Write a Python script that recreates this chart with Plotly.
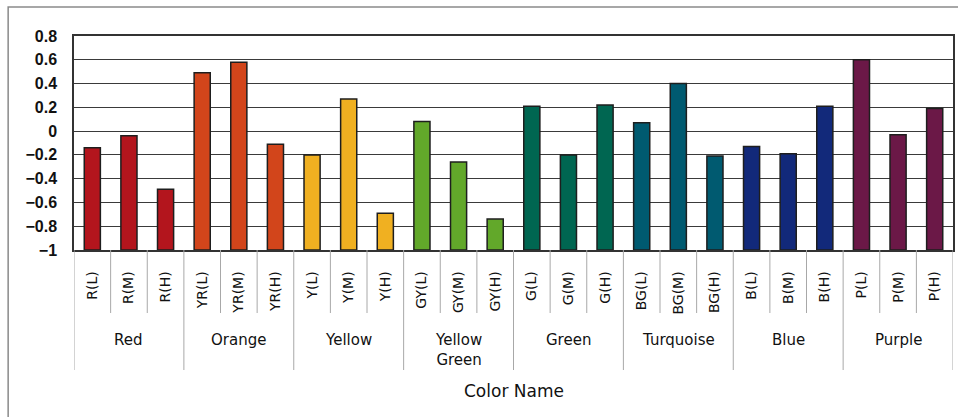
import plotly.graph_objects as go

# ---- data ----
categories = ["R(L)", "R(M)", "R(H)", "YR(L)", "YR(M)", "YR(H)", "Y(L)", "Y(M)", "Y(H)",
              "GY(L)", "GY(M)", "GY(H)", "G(L)", "G(M)", "G(H)", "BG(L)", "BG(M)", "BG(H)",
              "B(L)", "B(M)", "B(H)", "P(L)", "P(M)", "P(H)"]
values = [-0.14, -0.04, -0.49, 0.49, 0.58, -0.11, -0.20, 0.27, -0.69,
          0.08, -0.26, -0.74, 0.21, -0.20, 0.22, 0.07, 0.40, -0.21,
          -0.13, -0.19, 0.21, 0.60, -0.03, 0.19]
groups = ["Red", "Orange", "Yellow", "Yellow<br>Green", "Green", "Turquoise", "Blue", "Purple"]
group_colors = ["#b3151d", "#d2451b", "#f0b021", "#62a82a", "#006651", "#005a70", "#12297a", "#6b1847"]
y_ticks = [0.8, 0.6, 0.4, 0.2, 0, -0.2, -0.4, -0.6, -0.8, -1]
x_title = "Color Name"

base = -1.0
per_group = len(categories) // len(groups)
bar_colors = [group_colors[i // per_group] for i in range(len(categories))]

fig = go.Figure()
fig.add_trace(go.Bar(
    x=categories,
    y=[v - base for v in values],
    base=base,
    marker=dict(color=bar_colors, line=dict(color="#1e1e1e", width=1.5)),
    showlegend=False,
))

W, H = 958, 417
ml, mr, mt, mb = 74, 3, 36, 167
ph = H - mt - mb


def py(pix):
    # pixel row -> paper y
    return (H - mb - pix) / ph


shapes = []
# short dividers between categories
for i in range(len(categories) - 1):
    if (i + 1) % per_group == 0:
        continue
    shapes.append(dict(type="line", xref="x", yref="paper", x0=i + 0.5, x1=i + 0.5,
                       y0=0, y1=py(313), line=dict(color="#a8a8a8", width=1)))
# long dividers between groups
for g in range(len(groups) + 1):
    xb = g * per_group - 0.5
    shapes.append(dict(type="line", xref="x", yref="paper", x0=xb, x1=xb,
                       y0=0, y1=py(370), line=dict(color="#a8a8a8", width=1)))
# outer frame
shapes.append(dict(type="rect", xref="paper", yref="paper",
                   x0=(8 - ml) / (W - ml - mr), x1=(975 - ml) / (W - ml - mr),
                   y0=py(430), y1=py(7), line=dict(color="#8a8a8a", width=1.5)))

annotations = []
for g, name in enumerate(groups):
    annotations.append(dict(text=name, xref="x", yref="paper",
                            x=g * per_group + (per_group - 1) / 2, y=py(329),
                            yanchor="top", xanchor="center", showarrow=False,
                            font=dict(family="DejaVu Sans", size=15, color="#111")))
annotations.append(dict(text=x_title, xref="paper", yref="paper", x=0.5, y=py(391),
                        yanchor="middle", xanchor="center", showarrow=False,
                        font=dict(family="DejaVu Sans", size=17, color="#111")))

fig.update_layout(
    width=W, height=H,
    margin=dict(l=ml, r=mr, t=mt, b=mb, pad=0),
    paper_bgcolor="white", plot_bgcolor="white",
    bargap=0.56,
    shapes=shapes,
    annotations=annotations,
    xaxis=dict(type="category", tickangle=-90, showgrid=False, ticks="",
               tickfont=dict(family="DejaVu Sans", size=14, color="#111"),
               ticklabelstandoff=14,
               showline=True, linecolor="#333", linewidth=1.5, mirror=True,
               range=[-0.5, len(categories) - 0.5]),
    yaxis=dict(range=[-1, 0.8], tickvals=y_ticks, showgrid=True, gridcolor="#3a3a3a",
               gridwidth=1, zeroline=False, ticks="",
               tickfont=dict(family="Liberation Sans", size=16, color="#111", weight="bold"),
               ticklabelstandoff=12,
               showline=True, linecolor="#333", linewidth=1.5, mirror=True),
)

fig.write_html("out.html")
